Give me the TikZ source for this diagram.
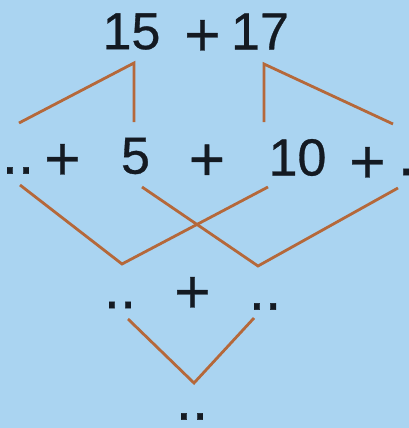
\documentclass[tikz,border=0pt]{standalone}
\usepackage{fontspec}
\setmainfont{Liberation Sans}
\newfontfamily\heavysans{Liberation Sans}[FakeBold=0.6]
\definecolor{bgblue}{HTML}{AAD4F1}
\definecolor{linebrown}{HTML}{B5683A}
\definecolor{inkc}{HTML}{141A22}
\begin{document}
\begin{tikzpicture}[x=1pt,y=-1pt,
  num/.style={inner sep=0pt,outer sep=0pt,text=inkc,font=\heavysans\fontsize{52}{60}\selectfont},
  plussign/.style={inner sep=0pt,outer sep=0pt,text=inkc,font=\heavysans\fontsize{62}{70}\selectfont},
  dotsign/.style={inner sep=0pt,outer sep=0pt,text=inkc,font=\heavysans\fontsize{58}{66}\selectfont},
  link/.style={draw=linebrown,line width=2.8pt,line join=miter,line cap=butt}]
\fill[bgblue] (0,0) rectangle (409,428);
\useasboundingbox (0,0) rectangle (409,428);
% row 1
\node[num] (t15) at (131.5,31.5) {15};
\node[plussign] (tp) at (202.5,38) {+};
\node[num] (t17) at (260,31.5) {17};
% row 2
\node[dotsign] (rdl) at (18,170.5) {..};
\node[plussign] (rp1) at (62.5,162) {+};
\node[num] (r5) at (135.5,156) {5};
\node[plussign] (rp2) at (207,162.5) {+};
\node[num] (r10) at (297.5,157.5) {10};
\node[plussign] (rp3) at (367.5,165) {+};
\node[dotsign,anchor=east] (rdr) at (409,172) {\makebox[11pt][l]{.}};
% row 3
\node[dotsign] (sdl) at (120,305) {..};
\node[plussign] (sp) at (192.5,295) {+};
\node[dotsign] (sdr) at (265,306.5) {..};
% row 4
\node[dotsign] (res) at (192,416.5) {..};
% connectors
\coordinate (a1) at (19,123);
\coordinate (a2) at (134,63);
\coordinate (a3) at (134,122);
\coordinate (b1) at (264,122);
\coordinate (b2) at (264,64);
\coordinate (b3) at (393,124);
\coordinate (c1) at (20,185);
\coordinate (c2) at (122,264);
\coordinate (c3) at (268,187);
\coordinate (d1) at (142,187);
\coordinate (d2) at (258,266);
\coordinate (d3) at (398,188);
\coordinate (e1) at (128,319);
\coordinate (e2) at (194,383);
\coordinate (e3) at (254,318);
\draw[link] (a1) -- (a2) -- (a3);
\draw[link] (b1) -- (b2) -- (b3);
\draw[link] (c1) -- (c2) -- (c3);
\draw[link] (d1) -- (d2) -- (d3);
\draw[link] (e1) -- (e2) -- (e3);
\end{tikzpicture}
\end{document}
